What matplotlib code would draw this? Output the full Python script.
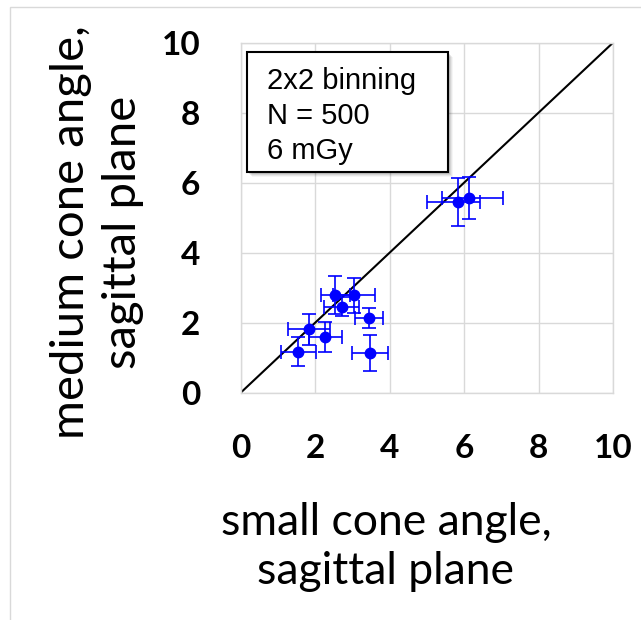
import matplotlib
matplotlib.use("Agg")
import matplotlib.pyplot as plt
from matplotlib.patches import Rectangle

# Angle estimates: small cone angle (x) vs medium cone angle (y), sagittal plane
small_angle = [1.55, 1.83, 2.27, 2.54, 3.04, 2.71, 3.44, 3.47, 5.83, 6.12]
medium_angle = [1.17, 1.81, 1.60, 2.79, 2.79, 2.46, 2.13, 1.13, 5.44, 5.56]
small_err_lo = [0.46, 0.57, 0.44, 0.39, 0.56, 0.47, 0.38, 0.49, 0.83, 0.70]
small_err_hi = [0.46, 0.57, 0.44, 0.39, 0.56, 0.47, 0.38, 0.49, 0.60, 0.93]
medium_err = [0.41, 0.45, 0.43, 0.55, 0.50, 0.27, 0.29, 0.52, 0.69, 0.60]

ticks = [0, 2, 4, 6, 8, 10]
identity = [0, 10]
annotation = "2x2 binning\nN = 500\n6 mGy"
x_title = "small cone angle,\nsagittal plane"
y_title = "medium cone angle,\nsagittal plane"

W, H = 641, 620
fig = plt.figure(figsize=(W / 100, H / 100), dpi=100)

# light outer frame of the figure panel
fig.patches.append(Rectangle((10 / W, -0.1), 1.2, (H - 7) / H + 0.1,
                             transform=fig.transFigure, fill=False,
                             edgecolor="#d9d9d9", linewidth=1.0))

ax = fig.add_axes([240.7 / W, 1 - 392.7 / H, 372.3 / W, 350 / H])
ax.set_xlim(0, 10)
ax.set_ylim(0, 10)
ax.set_xticks(ticks)
ax.set_yticks(ticks)
ax.grid(True, color="#d9d9d9", linewidth=1.0)
ax.set_axisbelow(True)
for s in ax.spines.values():
    s.set_color("#d9d9d9")
    s.set_linewidth(1.0)
ax.tick_params(length=0)
ax.tick_params(axis="x", pad=30)
ax.tick_params(axis="y", pad=29)
for lab in ax.get_xticklabels() + ax.get_yticklabels():
    lab.set_fontfamily("Lato")
    lab.set_fontweight("bold")
    lab.set_fontsize(24)

ax.plot(identity, identity, color="black", linewidth=1.5, zorder=2)

ax.errorbar(small_angle, medium_angle,
            xerr=[small_err_lo, small_err_hi], yerr=medium_err,
            fmt="o", color="#0000ff", ecolor="#0000ff", markersize=7.5,
            elinewidth=1.2, capsize=5, capthick=1.2, zorder=3)

# axis titles
fig.text(386 / W, 1 - 547 / H, x_title, fontfamily="Lato", fontsize=32,
         ha="center", va="center", linespacing=1.22)
fig.text(97 / W, 1 - 232 / H, y_title, fontfamily="Lato", fontsize=34,
         ha="center", va="center", rotation=90, linespacing=1.3)

# annotation box with drop shadow
bx0, by0, bx1, by1 = 246.7, 51.7, 448.3, 171.7
def fig_box(x0, y0, x1, y1):
    return (x0 / W, 1 - y1 / H), (x1 - x0) / W, (y1 - y0) / H
for k, a in enumerate([0.10, 0.08, 0.06, 0.04]):
    off = 2 + k
    xy, w, h = fig_box(bx0 + off, by0 + off, bx1 + off, by1 + off)
    fig.patches.append(Rectangle(xy, w, h, transform=fig.transFigure,
                                 facecolor="black", edgecolor="none", alpha=a,
                                 zorder=5))
xy, w, h = fig_box(bx0, by0, bx1, by1)
fig.patches.append(Rectangle(xy, w, h, transform=fig.transFigure,
                             facecolor="white", edgecolor="black",
                             linewidth=1.5, zorder=6))
fig.text(266.7 / W, 1 - 116 / H, annotation, fontfamily="Liberation Sans",
         fontsize=21, va="center", ha="left", linespacing=1.32, zorder=7)

fig.savefig("out.png", dpi=100)
